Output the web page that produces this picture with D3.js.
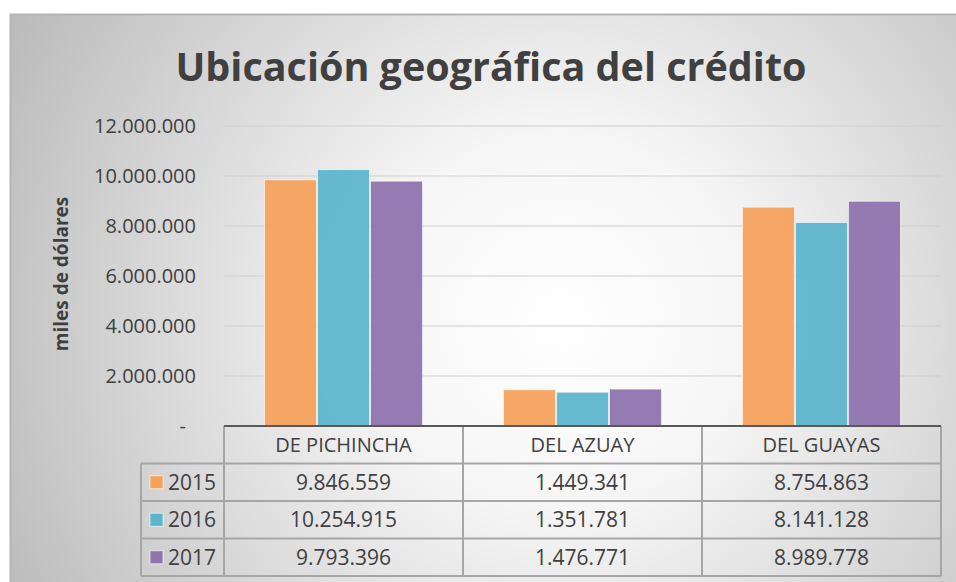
<!DOCTYPE html>
<html>
<head>
<meta charset="utf-8">
<script src="https://cdn.jsdelivr.net/npm/d3@7"></script>
<style>
  body { margin: 0; background: #fff; }
  svg { display: block; }
</style>
</head>
<body>
<div id="chart"></div>
<script>
const regions = ["DE PICHINCHA", "DEL AZUAY", "DEL GUAYAS"];
const years = ["2015", "2016", "2017"];
const v2015 = [9846559, 1449341, 8754863];
const v2016 = [10254915, 1351781, 8141128];
const v2017 = [9793396, 1476771, 8989778];
const yTicks = [0, 2000000, 4000000, 6000000, 8000000, 10000000, 12000000];
const colors = ["#f5a25d", "#5eb5cb", "#8e75ae"];

const series = [v2015, v2016, v2017];
const width = 956, height = 582;
const font = "'Open Sans', 'Noto Sans', sans-serif";

const svg = d3.select("#chart").append("svg")
  .attr("width", width).attr("height", height)
  .style("font-family", font);

const defs = svg.append("defs");
const grad = defs.append("radialGradient").attr("id", "bg")
  .attr("gradientUnits", "userSpaceOnUse")
  .attr("cx", 560).attr("cy", 320).attr("r", 620);
grad.append("stop").attr("offset", "0").attr("stop-color", "#ffffff");
grad.append("stop").attr("offset", "0.3").attr("stop-color", "#f6f6f6");
grad.append("stop").attr("offset", "1").attr("stop-color", "#bbbbbb");

// chart frame
svg.append("rect")
  .attr("x", 10.5).attr("y", 14.5).attr("width", 960).attr("height", 600)
  .attr("fill", "url(#bg)").attr("stroke", "#b4b4b4").attr("stroke-width", 2);

// title
svg.append("text")
  .attr("x", 491).attr("y", 81)
  .attr("text-anchor", "middle")
  .attr("font-size", 39.5).attr("font-weight", "bold")
  .attr("fill", "#404040")
  .text("Ubicación geográfica del crédito");

const plotL = 224, plotR = 941;
const y = d3.scaleLinear().domain([0, 12000000]).range([426, 126]);
const x0 = d3.scaleBand().domain(regions).range([plotL, plotR]).paddingInner(0).paddingOuter(0);
const x1 = d3.scaleBand().domain(years).range([40, x0.bandwidth() - 40]).padding(0);

// gridlines
svg.append("g").selectAll("line")
  .data(yTicks.filter(d => d > 0))
  .join("line")
  .attr("x1", plotL).attr("x2", plotR)
  .attr("y1", d => y(d)).attr("y2", d => y(d))
  .attr("stroke", "#cfcfcf").attr("stroke-width", 1);

// y tick labels
const fmt = d => d === 0 ? "-" : d3.format(",")(d).replace(/,/g, ".");
svg.append("g").selectAll("text")
  .data(yTicks)
  .join("text")
  .attr("x", d => d === 0 ? 186 : 196)
  .attr("y", d => y(d) + 7)
  .attr("text-anchor", "end")
  .attr("font-size", 20)
  .attr("fill", "#404040")
  .text(fmt);

// y axis title
svg.append("text")
  .attr("transform", "translate(68,274) rotate(-90)")
  .attr("text-anchor", "middle")
  .attr("font-size", 19).attr("font-weight", "bold")
  .attr("fill", "#404040")
  .text("miles de dólares");

// bars
const groups = svg.append("g").selectAll("g")
  .data(regions)
  .join("g")
  .attr("transform", d => `translate(${x0(d)},0)`);
groups.selectAll("rect")
  .data((d, i) => years.map((yr, j) => ({ yr, v: series[j][i], c: colors[j] })))
  .join("rect")
  .attr("x", d => x1(d.yr) + 0.5)
  .attr("width", x1.bandwidth() - 1)
  .attr("y", d => y(d.v))
  .attr("height", d => y(0) - y(d.v))
  .attr("fill", d => d.c)
  .attr("fill-opacity", 0.95)
  .attr("stroke", "#ffffff").attr("stroke-opacity", 0.6).attr("stroke-width", 1);

// data table
const rowTop = 426, rowH = 37.5;
const legL = 141;
const tbl = svg.append("g");
const lineC = "#a6a6a6";

// horizontal lines
const hLines = d3.range(1, 5).map(i => rowTop + i * rowH);
tbl.selectAll("line.h")
  .data(hLines)
  .join("line")
  .attr("class", "h")
  .attr("x1", legL)
  .attr("x2", plotR)
  .attr("y1", d => d).attr("y2", d => d)
  .attr("stroke", lineC).attr("stroke-width", 2);
// verticals
const vLines = [plotL].concat(regions.map(r => x0(r) + x0.bandwidth()));
tbl.selectAll("line.v")
  .data(vLines)
  .join("line")
  .attr("class", "v")
  .attr("x1", d => d).attr("x2", d => d)
  .attr("y1", rowTop).attr("y2", rowTop + 4 * rowH)
  .attr("stroke", lineC).attr("stroke-width", 2);
tbl.append("line")
  .attr("x1", legL).attr("x2", legL)
  .attr("y1", rowTop + rowH).attr("y2", rowTop + 4 * rowH)
  .attr("stroke", lineC).attr("stroke-width", 2);
// axis line
tbl.append("line")
  .attr("x1", plotL).attr("x2", plotR)
  .attr("y1", rowTop).attr("y2", rowTop)
  .attr("stroke", "#595959").attr("stroke-width", 2);

// header text
tbl.selectAll("text.hdr")
  .data(regions)
  .join("text")
  .attr("class", "hdr")
  .attr("x", d => x0(d) + x0.bandwidth() / 2)
  .attr("y", rowTop + rowH / 2 + 7)
  .attr("text-anchor", "middle")
  .attr("font-size", 20)
  .attr("fill", "#404040")
  .text(d => d);

// value cells
years.forEach((yr, j) => {
  const cy = rowTop + (j + 1) * rowH + rowH / 2;
  tbl.append("rect")
    .attr("x", 150).attr("y", cy - 6.5)
    .attr("width", 13).attr("height", 13)
    .attr("fill", colors[j]).attr("stroke", "#ffffff").attr("stroke-opacity", 0.6);
  tbl.append("text")
    .attr("x", 168).attr("y", cy + 7.5)
    .attr("font-size", 21).attr("fill", "#404040")
    .text(yr);
  tbl.selectAll(null)
    .data(regions)
    .join("text")
    .attr("x", d => x0(d) + x0.bandwidth() / 2)
    .attr("y", cy + 7.5)
    .attr("text-anchor", "middle")
    .attr("font-size", 21).attr("fill", "#404040")
    .text((d, i) => fmt(series[j][i]));
});
</script>
</body>
</html>
